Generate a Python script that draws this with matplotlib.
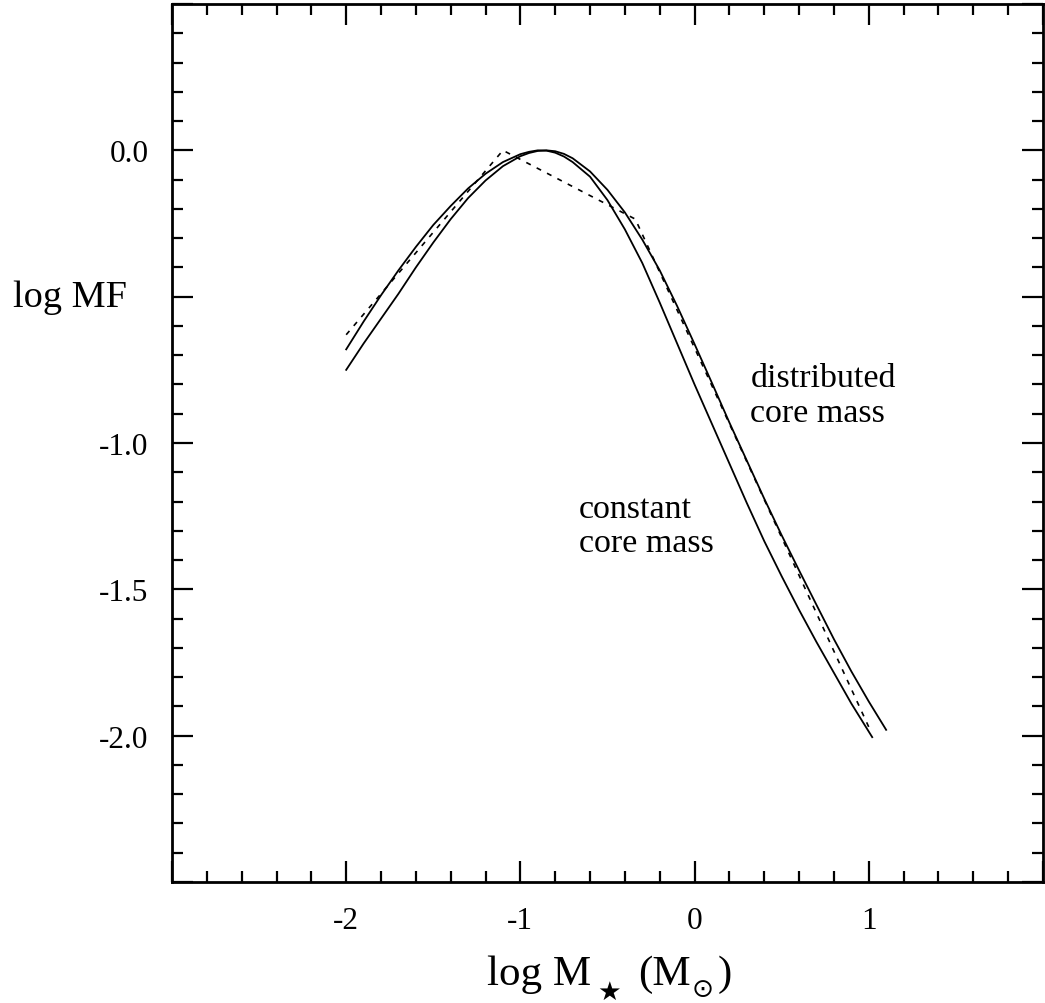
import matplotlib
matplotlib.use("Agg")
import matplotlib.pyplot as plt
from matplotlib.ticker import MultipleLocator

# constant core mass curve (log M, log MF)
const_x = [-2.0, -1.9, -1.8, -1.7, -1.6, -1.5, -1.4, -1.3, -1.2, -1.1, -1.0, -0.95, -0.9, -0.85, -0.8,
           -0.75, -0.7, -0.6, -0.5, -0.4, -0.3, -0.2, -0.1, 0.0, 0.1, 0.2, 0.3, 0.4, 0.5, 0.6, 0.7, 0.8,
           0.9, 1.02]
const_y = [-0.68, -0.585, -0.495, -0.41, -0.33, -0.255, -0.19, -0.13, -0.08, -0.04, -0.013, -0.005, 0.0,
           -0.001, -0.008, -0.021, -0.04, -0.09, -0.17, -0.27, -0.385, -0.52, -0.66, -0.80, -0.935,
           -1.07, -1.205, -1.335, -1.455, -1.57, -1.68, -1.785, -1.89, -2.005]

# distributed core mass curve
dist_x = [-2.0, -1.9, -1.8, -1.7, -1.6, -1.5, -1.4, -1.3, -1.2, -1.1, -1.0, -0.95, -0.9, -0.85, -0.8,
          -0.75, -0.7, -0.6, -0.5, -0.4, -0.3, -0.2, -0.1, 0.0, 0.1, 0.2, 0.3, 0.4, 0.5, 0.6, 0.7, 0.8,
          0.9, 1.0, 1.1]
dist_y = [-0.75, -0.66, -0.575, -0.49, -0.40, -0.315, -0.235, -0.163, -0.103, -0.054, -0.02, -0.009,
          -0.002, 0.0, -0.003, -0.012, -0.027, -0.072, -0.135, -0.212, -0.305, -0.41, -0.532, -0.662,
          -0.795, -0.93, -1.06, -1.19, -1.315, -1.435, -1.553, -1.67, -1.78, -1.883, -1.98]

# broken power law reference (dashed)
plaw_x = [-2.0, -1.1, -0.34, 1.0]
plaw_y = [-0.63, 0.0, -0.235, -1.97]

# annotation lines: text, x, baseline y
notes = [("distributed", 0.32, -0.806), ("core mass", 0.32, -0.925),
         ("constant", -0.665, -1.252), ("core mass", -0.665, -1.369)]

plt.rcParams['font.family'] = ['Liberation Serif', 'DejaVu Sans']

fig = plt.figure(figsize=(10.45, 10.04), dpi=100)
ax = fig.add_axes([0.1646, 0.1205, 0.8334, 0.8745])

ax.plot(const_x, const_y, color='black', lw=1.3)
ax.plot(dist_x, dist_y, color='black', lw=1.3)
ax.plot(plaw_x, plaw_y, color='black', lw=1.2, linestyle=(0, (3, 4)))

for txt, tx, ty in notes:
    ax.text(tx, ty, txt, fontsize=24.5, ha='left', va='baseline')

ax.set_xlim(-3, 2)
ax.set_ylim(-2.5, 0.5)
ax.xaxis.set_minor_locator(MultipleLocator(0.2))
ax.yaxis.set_minor_locator(MultipleLocator(0.1))
ax.tick_params(which='both', direction='in', top=True, right=True, width=1.6)
ax.tick_params(which='major', length=15, labelsize=22.5, pad=17)
ax.tick_params(which='minor', length=8)
for s in ax.spines.values():
    s.set_linewidth(2)

ax.set_xticks([-3, -2, -1, 0, 1, 2])
ax.set_xticklabels(['', '-2', '-1', '0', '1', ''])
ax.set_yticks([-2.5, -2.0, -1.5, -1.0, -0.5, 0.0, 0.5])
ax.set_yticklabels(['', '-2.0', '-1.5', '-1.0', '', '0.0', ''])

# axis labels built from pieces so the star and sun symbols can fall back
fig.text(0.012, 1 - 298 / 1004, 'log MF', fontsize=27.5, ha='left', va='center')
fig.text(487 / 1045, 1 - 985 / 1004, 'log M', fontsize=31, ha='left', va='baseline')
fig.text(597 / 1045, 1 - 1000 / 1004, '\u2605', fontsize=19, ha='left', va='baseline',
         family=['DejaVu Sans'])
fig.text(638 / 1045, 1 - 985 / 1004, '(M', fontsize=31, ha='left', va='baseline')
fig.text(692 / 1045, 1 - 997 / 1004, '\u2299', fontsize=19, ha='left', va='baseline',
         family=['DejaVu Sans'])
fig.text(718 / 1045, 1 - 985 / 1004, ')', fontsize=31, ha='left', va='baseline')

fig.savefig('out.png', dpi=100)
